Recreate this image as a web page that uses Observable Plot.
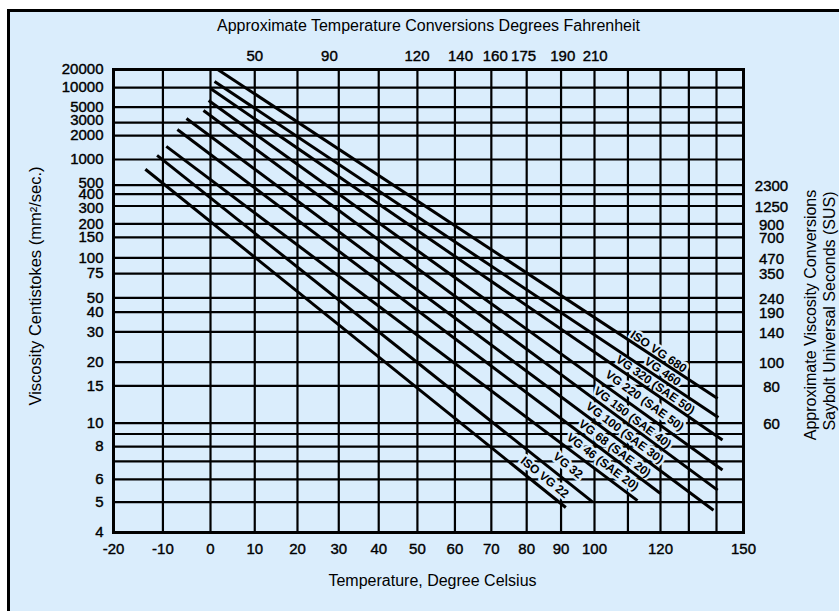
<!DOCTYPE html>
<html>
<head>
<meta charset="utf-8">
<script src="https://cdn.jsdelivr.net/npm/d3@7"></script>
<script src="https://cdn.jsdelivr.net/npm/@observablehq/plot@0.6"></script>
<style>
  html, body { margin: 0; padding: 0; width: 839px; height: 611px; overflow: hidden; background: #fff; }
  #bg { position: absolute; left: 7px; top: 9px; width: 900px; height: 700px; background: #daedfc;
        border-left: 3px solid #000; border-top: 3px solid #000; }
  #chart { position: absolute; left: 0; top: 0; }
</style>
</head>
<body>
<div id="bg"></div>
<div id="chart"></div>
<script>
// ---- data ----
const celsiusGrid = [-20, -10, 0, 10, 20, 30, 40, 50, 60, 70, 80, 90, 100, 110, 120, 130, 140, 150];
const celsiusLabels = [-20, -10, 0, 10, 20, 30, 40, 50, 60, 70, 80, 90, 100, 120, 150];
// Fahrenheit labels and where they sit along the Celsius axis in the reference
const fahrenheitLabels = ["50", "90", "120", "140", "160", "175", "190", "210"];
const fahrenheitAtC = [10, 27.7, 49.9, 61.5, 71.1, 79.1, 90.5, 100.2];
const cstGrid = [4, 5, 6, 7, 8, 9, 10, 15, 20, 30, 40, 50, 75, 100, 150, 200, 300, 400, 500, 1000, 2000, 3000, 5000, 10000, 20000];
const cstLabels = [4, 5, 6, 8, 10, 15, 20, 30, 40, 50, 75, 100, 150, 200, 300, 400, 500, 1000, 2000, 3000, 5000, 10000, 20000];
const susAtCst = [10, 15, 20, 30, 40, 50, 75, 100, 150, 200, 300, 500];
const susLabels = ["60", "80", "100", "140", "190", "240", "350", "470", "700", "900", "1250", "2300"];

const grades = ["ISO VG 22", "VG 32", "VG 46 (SAE 20)", "VG 68 (SAE 20)", "VG 100 (SAE 30)",
                "VG 150 (SAE 40)", "VG 220 (SAE 50)", "VG 320 (SAE 50)", "VG 460", "ISO VG 680"];
const startC = [-13.6, -11.2, -9.3, -7.0, -5.1, -1.5, -0.4, 0, 0.9, 1.6];
const startV = [763, 1120, 1450, 2410, 3430, 4470, 6300, 9680, 12570, 20000];
const endC   = [91.4, 99.5, 112.9, 120, 138.9, 140.4, 142.2, 142.2, 140.7, 140.4];
const endV   = [4.8, 5.0, 5.06, 5.35, 4.7, 5.5, 6.5, 8.5, 10.6, 13.0];
const labelC = [85.2, 92.0, 102.4, 106.0, 109.0, 111.4, 115.1, 118.4, 120.7, 119.4];
const labelV = [6.10, 6.75, 6.96, 7.86, 9.1, 10.6, 12.7, 15.2, 17.8, 22.9];
const labelAngle = [39, 39, 37, 37, 37, 37, 36, 35, 34, 34];

// ---- scale helpers (ASTM chart: log absolute temperature vs log-log viscosity) ----
const K = c => c + 273.15;
const LV = v => Math.log10(v + 0.7);

const lineRows = grades.flatMap((g, i) => [
  {grade: g, c: startC[i], v: startV[i]},
  {grade: g, c: endC[i], v: endV[i]}
]);
const labelRows = grades.map((g, i) => ({grade: g, c: labelC[i], v: labelV[i], angle: labelAngle[i]}));
const susRows = susAtCst.map((c, i) => ({cst: c, sus: susLabels[i]}));
const fRows = fahrenheitLabels.map((f, i) => ({f, c: fahrenheitAtC[i]}));

// small typographic nudges so the tightly packed tick labels do not collide (as in the reference)
const nudgeUp = [500, 3000];
const nudgeDown = [300];

const BG = "#daedfc";
const FONT = "'Liberation Sans', Arial, Helvetica, sans-serif";
const num = {fontSize: 15, fill: "#000", stroke: "#000", strokeWidth: 0.4, lineAnchor: "middle"};
const title = {fontSize: 16, fill: "#000", textAnchor: "middle", lineAnchor: "middle"};
const leftLab = {y: LV, text: d => String(d), frameAnchor: "left", textAnchor: "end", dx: -10, ...num};

const chart = Plot.plot({
  width: 839,
  height: 611,
  marginLeft: 113,
  marginRight: 96,
  marginTop: 69,
  marginBottom: 79,
  style: {background: "transparent", fontFamily: FONT, color: "#000", overflow: "visible"},
  x: {type: "log", domain: [-20, 0, 100, 120, 150].map(K), range: [113, 210, 594, 660, 743], axis: null},
  y: {type: "log", domain: [4, 10, 100, 1000, 20000].map(LV), range: [531.7, 422.7, 257.3, 159, 69], axis: null},
  marks: [
    Plot.ruleY(cstGrid, {y: LV, stroke: "#000", strokeWidth: 2.2}),
    Plot.ruleX(celsiusGrid, {x: K, stroke: "#000", strokeWidth: 2.2}),
    Plot.text(cstLabels.filter(d => !nudgeUp.includes(d) && !nudgeDown.includes(d)), leftLab),
    Plot.text(cstLabels.filter(d => nudgeUp.includes(d)), {...leftLab, dy: -2}),
    Plot.text(cstLabels.filter(d => nudgeDown.includes(d)), {...leftLab, dy: 2}),
    Plot.text(susRows, {y: d => LV(d.cst), text: "sus", frameAnchor: "right", textAnchor: "middle", dx: 28, dy: 1, ...num}),
    Plot.text(celsiusLabels, {x: K, text: d => String(d), frameAnchor: "bottom", dy: 17, textAnchor: "middle", ...num}),
    Plot.text(fRows, {x: d => K(d.c), text: "f", frameAnchor: "top", dy: -13, textAnchor: "middle", ...num}),
    Plot.text(["Approximate Temperature Conversions Degrees Fahrenheit"], {frameAnchor: "top", dy: -44, ...title}),
    Plot.text(["Temperature, Degree Celsius"], {frameAnchor: "bottom", dx: 4, dy: 48, ...title}),
    Plot.text(["Viscosity Centistokes (mm²/sec.)"], {frameAnchor: "left", rotate: -90, dx: -78, dy: -15, ...title, fontSize: 16.5}),
    Plot.text(["Approximate Viscosity Conversions"], {frameAnchor: "right", rotate: -90, dx: 67, dy: 14, ...title}),
    Plot.text(["Saybolt Universal Seconds (SUS)"], {frameAnchor: "right", rotate: -90, dx: 86, dy: 10, ...title}),
    Plot.text(labelRows, {x: d => K(d.c), y: d => LV(d.v), text: "grade", rotate: "angle",
      fontSize: 12, fontWeight: "bold", fill: "#000", stroke: BG, strokeWidth: 5, paintOrder: "stroke"}),
    Plot.line(lineRows, {x: d => K(d.c), y: d => LV(d.v), z: "grade", stroke: "#000", strokeWidth: 3, strokeLinecap: "butt"}),
    Plot.frame({stroke: "#000", strokeWidth: 3})
  ]
});
document.getElementById("chart").appendChild(chart);
</script>
</body>
</html>
